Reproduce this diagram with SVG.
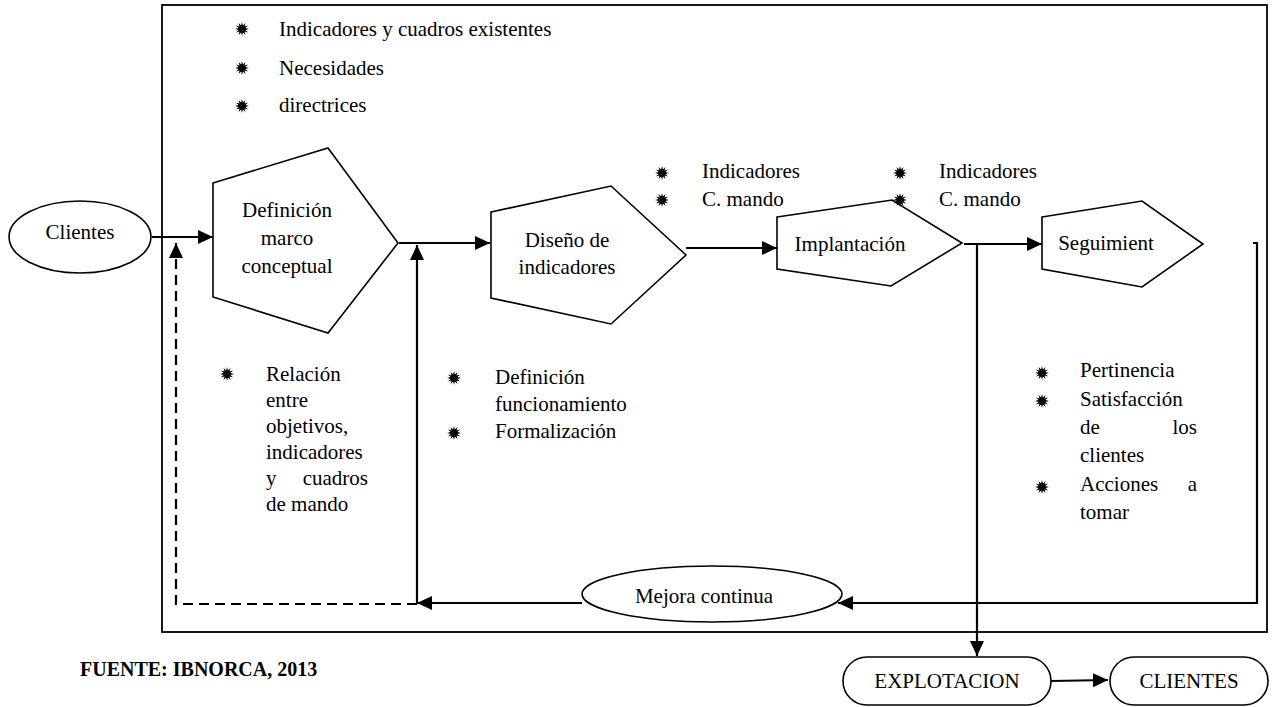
<svg xmlns="http://www.w3.org/2000/svg" width="1272" height="707" viewBox="0 0 1272 707" font-family="'Liberation Serif', 'Times New Roman', Times, serif">
  <style>
    text { font-family: 'Liberation Serif', 'Times New Roman', Times, serif; font-size: 21px; fill: #000; }
    .mid { text-anchor: middle; }
    .end { text-anchor: end; }
    .bold { font-weight: bold; }
    .shape { fill: #fff; stroke: #000; stroke-width: 1.6; }
    .frame { fill: none; stroke: #000; stroke-width: 1.8; }
    .conn { fill: none; stroke: #000; stroke-width: 2.2; }
    .dash { stroke-dasharray: 10 6; }
  </style>
  <defs>
    <marker id="arrow" markerUnits="userSpaceOnUse" markerWidth="16" markerHeight="14" refX="15" refY="7" orient="auto">
      <path d="M0,0 L15,7 L0,14 Z" fill="#000"/>
    </marker>
    <!-- star bullet -->
    <polygon id="star" fill="#000" points="7,0 3.4,0.9 6.1,3.5 2.5,2.5 3.5,6.1 0.9,3.4 0,7 -0.9,3.4 -3.5,6.1 -2.5,2.5 -6.1,3.5 -3.4,0.9 -7,0 -3.4,-0.9 -6.1,-3.5 -2.5,-2.5 -3.5,-6.1 -0.9,-3.4 0,-7 0.9,-3.4 3.5,-6.1 2.5,-2.5 6.1,-3.5 3.4,-0.9"/>
  </defs>

  <rect id="frame" class="frame" x="162" y="5" width="1105" height="627"/>

  <!-- connectors -->
  <g id="connectors">
    <line class="conn" x1="152" y1="237" x2="213" y2="237" marker-end="url(#arrow)"/>
    <line class="conn" x1="399" y1="243" x2="490" y2="243" marker-end="url(#arrow)"/>
    <line class="conn" x1="686" y1="248" x2="777" y2="248" marker-end="url(#arrow)"/>
    <line class="conn" x1="964" y1="244" x2="1042" y2="244" marker-end="url(#arrow)"/>
    <!-- down to explotación -->
    <line class="conn" x1="977" y1="244" x2="977" y2="656" marker-end="url(#arrow)"/>
    <!-- return from seguimiento -->
    <polyline class="conn" points="1253,243 1257,243 1257,603 838,603" marker-end="url(#arrow)"/>
    <line class="conn" x1="582" y1="603" x2="417" y2="603" marker-end="url(#arrow)"/>
    <line class="conn" x1="417" y1="603" x2="417" y2="245" marker-end="url(#arrow)"/>
    <!-- dashed feedback -->
    <polyline class="conn dash" points="417,604 176,604 176,243" marker-end="url(#arrow)"/>
    <line class="conn" x1="1051" y1="681" x2="1108" y2="680" marker-end="url(#arrow)"/>
  </g>

  <g id="clientes">
    <ellipse class="shape" cx="80" cy="237" rx="71" ry="36"/>
    <text class="mid" x="80" y="239">Clientes</text>
  </g>

  <g id="definicion">
    <polygon class="shape" points="213,183 328,148 398,243 328,333 213,297"/>
    <text class="mid" x="287" y="217">Definición</text>
    <text class="mid" x="287" y="245">marco</text>
    <text class="mid" x="287" y="273">conceptual</text>
  </g>

  <g id="diseno">
    <polygon class="shape" points="491,212 611,186 686,255 611,324 491,298"/>
    <text class="mid" x="567" y="247">Diseño de</text>
    <text class="mid" x="567" y="274">indicadores</text>
  </g>

  <g id="implantacion">
    <polygon class="shape" points="777,217 892,200 962,243 891,286 777,269"/>
    <text class="mid" x="850" y="251">Implantación</text>
  </g>

  <g id="seguimiento">
    <polygon class="shape" points="1042,217 1142,201 1203,244 1142,287 1042,269"/>
    <text class="mid" x="1106" y="250">Seguimient</text>
  </g>

  <g id="mejora">
    <ellipse class="shape" cx="712" cy="594" rx="130" ry="28"/>
    <text class="mid" x="704" y="603">Mejora continua</text>
  </g>

  <g id="explotacion">
    <rect class="shape" x="843" y="657" width="208" height="48" rx="24" ry="24"/>
    <text class="mid" x="947" y="688">EXPLOTACION</text>
  </g>

  <g id="clientes-final">
    <rect class="shape" x="1110" y="657" width="158" height="48" rx="24" ry="24"/>
    <text class="mid" x="1189" y="688">CLIENTES</text>
  </g>

  <!-- inputs list -->
  <g id="entradas">
    <use href="#star" x="242" y="29"/>
    <use href="#star" x="242" y="68"/>
    <use href="#star" x="242" y="106"/>
    <text x="279" y="36">Indicadores y cuadros existentes</text>
    <text x="279" y="75">Necesidades</text>
    <text x="279" y="112">directrices</text>
  </g>

  <g id="salidas-diseno">
    <use href="#star" x="662" y="173"/>
    <use href="#star" x="662" y="200"/>
    <text x="702" y="178">Indicadores</text>
    <text x="702" y="206">C. mando</text>
  </g>

  <g id="salidas-implantacion">
    <use href="#star" x="900" y="173"/>
    <use href="#star" x="900" y="200"/>
    <text x="939" y="178">Indicadores</text>
    <text x="939" y="206">C. mando</text>
  </g>

  <g id="notas-definicion">
    <use href="#star" x="227" y="374"/>
    <text x="266" y="381">Relación</text>
    <text x="266" y="407">entre</text>
    <text x="266" y="433">objetivos,</text>
    <text x="266" y="459">indicadores</text>
    <text x="266" y="485">y</text>
    <text class="end" x="368" y="485">cuadros</text>
    <text x="266" y="511">de mando</text>
  </g>

  <g id="notas-diseno">
    <use href="#star" x="454" y="378"/>
    <use href="#star" x="454" y="433"/>
    <text x="495" y="384">Definición</text>
    <text x="495" y="411">funcionamiento</text>
    <text x="495" y="438">Formalización</text>
  </g>

  <g id="notas-seguimiento">
    <use href="#star" x="1042" y="373"/>
    <use href="#star" x="1042" y="401"/>
    <use href="#star" x="1042" y="487"/>
    <text x="1080" y="377">Pertinencia</text>
    <text x="1080" y="406">Satisfacción</text>
    <text x="1080" y="434">de</text>
    <text class="end" x="1197" y="434">los</text>
    <text x="1080" y="462">clientes</text>
    <text x="1080" y="491">Acciones</text>
    <text class="end" x="1197" y="491">a</text>
    <text x="1080" y="519">tomar</text>
  </g>

  <text id="fuente" class="bold" x="80" y="676" style="font-size:20px">FUENTE: IBNORCA, 2013</text>
</svg>
